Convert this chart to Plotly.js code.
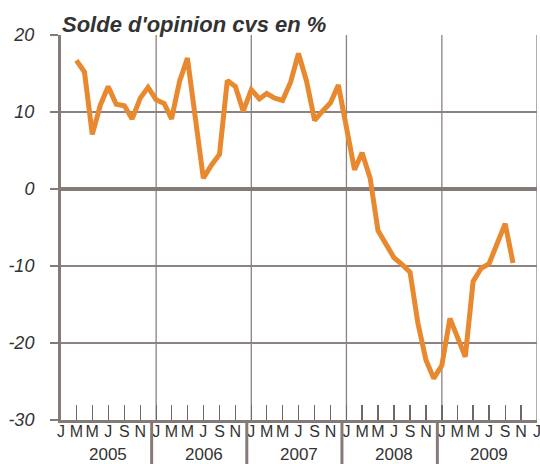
<!DOCTYPE html>
<html>
<head>
<meta charset="utf-8">
<script src="https://cdn.plot.ly/plotly-3.0.1.min.js"></script>
<style>html,body{margin:0;padding:0;background:#fff;}#chart{width:540px;height:464px;}</style>
</head>
<body>
<div id="chart"></div>
<script>
// ---- data ----
var months = [
  "2005-03","2005-04","2005-05","2005-06","2005-07","2005-08","2005-09","2005-10","2005-11","2005-12",
  "2006-01","2006-02","2006-03","2006-04","2006-05","2006-06","2006-07","2006-08","2006-09","2006-10","2006-11","2006-12",
  "2007-01","2007-02","2007-03","2007-04","2007-05","2007-06","2007-07","2007-08","2007-09","2007-10","2007-11","2007-12",
  "2008-01","2008-02","2008-03","2008-04","2008-05","2008-06","2008-07","2008-08","2008-09","2008-10","2008-11","2008-12",
  "2009-01","2009-02","2009-03","2009-04","2009-05","2009-06","2009-07","2009-08","2009-09","2009-10"
];
var solde = [
  16.7, 15.2, 7.1, 10.9, 13.3, 11.0, 10.8, 9.1, 11.8, 13.2,
  11.6, 11.1, 9.1, 14.0, 17.0, 9.2, 1.4, 3.1, 4.5, 14.1, 13.3, 10.1,
  12.9, 11.7, 12.4, 11.8, 11.5, 13.9, 17.6, 14.0, 8.9, 10.1, 11.2, 13.5,
  8.0, 2.5, 4.7, 1.4, -5.4, -7.2, -8.9, -9.8, -10.8, -17.4, -22.2, -24.6,
  -22.9, -16.8, -19.3, -21.8, -12.0, -10.3, -9.7, -7.1, -4.5, -9.6
];
var years = ["2005","2006","2007","2008","2009"];
var monthLetters = ["J","M","M","J","S","N"];
var monthNums = ["01","03","05","07","09","11"];
var endYear = "2010";
var yTickVals = [-30, -20, -10, 0, 10, 20];
var yTickText = ["-30", "-20", "-10", "0", "10", "20"];
var titleText = "Solde d'opinion cvs en %";

// ---- styles ----
var gridCol = "#8c8280";
var axisCol = "#847a77";
var textCol = "#333333";
var lineCol = "#E8892F";

var tickvals = [], ticktext = [];
years.forEach(function(y){
  monthNums.forEach(function(m, i){ tickvals.push(y + "-" + m + "-01"); ticktext.push(monthLetters[i]); });
});
tickvals.push(endYear + "-01-01"); ticktext.push(monthLetters[0]);

var shapes = [];
var boundaries = years.slice(1).concat([endYear]);
boundaries.forEach(function(y){
  shapes.push({type:"line", xref:"x", yref:"paper", x0:y+"-01-01", x1:y+"-01-01", y0:0, y1:1,
    line:{color:gridCol, width:1.3}, layer:"below"});
});
years.slice(1).forEach(function(y){
  shapes.push({type:"line", xref:"x", yref:"paper", xsizemode:"pixel", xanchor:y+"-01-01",
    x0:-4.5, x1:-4.5, y0:0, y1:-0.13, line:{color:axisCol, width:3}});
});

var annotations = years.map(function(y){
  return {xref:"x", yref:"paper", x:y+"-07-02", y:-0.089, text:y, showarrow:false,
    xanchor:"center", yanchor:"middle",
    font:{family:"Liberation Sans, Arial, sans-serif", size:17, color:textCol}};
});

var trace = {
  x: months.map(function(m){ return m + "-01"; }),
  y: solde,
  type: "scatter",
  mode: "lines",
  line: {color: lineCol, width: 5},
  hoverinfo: "skip"
};

var layout = {
  width: 540, height: 464,
  margin: {l: 61, r: 2.5, t: 35, b: 44},
  paper_bgcolor: "#ffffff", plot_bgcolor: "#ffffff",
  showlegend: false,
  title: {text: titleText, x: 62/540, xref: "container", xanchor: "left",
    y: 1 - 24/464, yref: "container", yanchor: "middle",
    font: {family: "Liberation Sans, Arial, sans-serif", size: 22, color: textCol, weight: "bold", style: "italic"}},
  xaxis: {
    type: "date", range: ["2005-01-01", endYear + "-01-01"],
    tickmode: "array", tickvals: tickvals, ticktext: ticktext, tickangle: 0,
    ticklabeloverflow: "allow", ticklabelstandoff: -5,
    ticks: "inside", ticklen: 15, tickwidth: 1.3, tickcolor: "#6e6866",
    showgrid: false, zeroline: false,
    showline: true, linewidth: 3, linecolor: axisCol,
    tickfont: {family: "Liberation Sans, Arial, sans-serif", size: 16, color: textCol},
    fixedrange: true
  },
  yaxis: {
    range: [-30, 20], tickmode: "array", tickvals: yTickVals, ticktext: yTickText,
    ticks: "outside", ticklen: 8, tickwidth: 1.3, tickcolor: axisCol,
    showgrid: true, gridcolor: gridCol, gridwidth: 1.3,
    zeroline: true, zerolinecolor: axisCol, zerolinewidth: 3.5,
    showline: true, linewidth: 3, linecolor: axisCol,
    ticklabelstandoff: 12,
    tickfont: {family: "Liberation Sans, Arial, sans-serif", size: 18, color: textCol, style: "italic"},
    fixedrange: true
  },
  shapes: shapes,
  annotations: annotations
};

Plotly.newPlot("chart", [trace], layout, {displayModeBar: false, staticPlot: true});
</script>
</body>
</html>
